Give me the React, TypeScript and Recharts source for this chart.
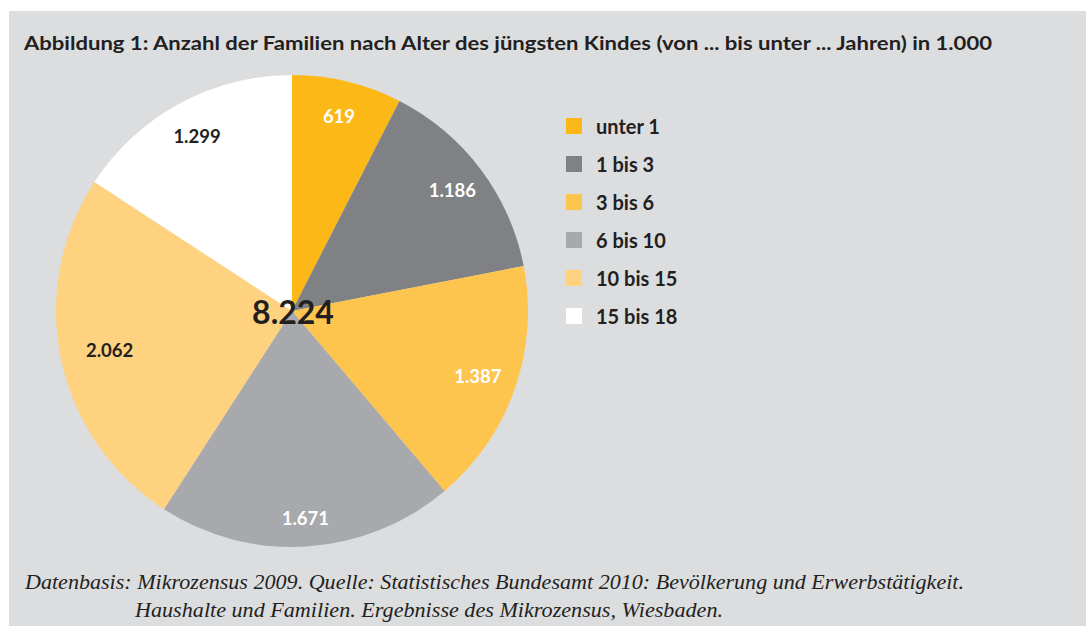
import { PieChart, Pie, Cell, Legend } from 'recharts'

const categories = ['unter 1', '1 bis 3', '3 bis 6', '6 bis 10', '10 bis 15', '15 bis 18']
const values = [619, 1186, 1387, 1671, 2062, 1299]
const valueLabels = ['619', '1.186', '1.387', '1.671', '2.062', '1.299']
const totalLabel = '8.224'
const colors = ['#fbb817', '#808184', '#fdc54e', '#a8a9ac', '#fed27f', '#ffffff']
const labelColors = ['#ffffff', '#ffffff', '#ffffff', '#ffffff', '#231f20', '#231f20']
// label distance from centre, as a share of the radius
const labelRadius = [0.85, 0.85, 0.835, 0.88, 0.79, 0.845]

const title = 'Abbildung 1: Anzahl der Familien nach Alter des jüngsten Kindes (von ... bis unter ... Jahren) in 1.000'
const source1 = 'Datenbasis: Mikrozensus 2009. Quelle: Statistisches Bundesamt 2010: Bevölkerung und Erwerbstätigkeit.'
const source2 = 'Haushalte und Familien. Ergebnisse des Mikrozensus, Wiesbaden.'

const chartData = categories.map((name, i) => ({ name, value: values[i], label: valueLabels[i] }))

const SANS = 'Lato, "Open Sans", sans-serif'
const SERIF = '"Liberation Serif", serif'
const RAD = Math.PI / 180
const CX = 292
const CY = 311

const renderLabel = (p: any) => {
  const r = p.outerRadius * labelRadius[p.index]
  const x = p.cx + r * Math.cos(-p.midAngle * RAD)
  const y = p.cy + r * Math.sin(-p.midAngle * RAD)
  return (
    <text x={x} y={y} textAnchor="middle" dominantBaseline="central"
      fill={labelColors[p.index]} fontFamily={SANS} fontWeight={700} fontSize={18.5}>
      {valueLabels[p.index]}
    </text>
  )
}

const renderLegend = () => (
  <div>
    {categories.map((c, i) => (
      <div key={c} style={{ display: 'flex', alignItems: 'center', height: 38 }}>
        <span style={{ width: 16, height: 16, background: colors[i], display: 'inline-block', marginRight: 14 }} />
        <span style={{ fontFamily: SANS, fontWeight: 700, fontSize: 20, color: '#231f20' }}>{c}</span>
      </div>
    ))}
  </div>
)

export default function App() {
  return (
    <div style={{ position: 'absolute', left: 0, top: 0, width: 1086, height: 626, background: '#fff', overflow: 'hidden' }}>
      <div style={{ position: 'absolute', left: 9, top: 11, width: 1077, height: 615, background: '#dcdddf' }} />
      <div style={{ position: 'absolute', left: 0, top: 0 }}>
        <PieChart width={1086} height={626} margin={{ top: 0, right: 0, bottom: 0, left: 0 }}>
          <Pie
            data={chartData}
            dataKey="value"
            nameKey="name"
            cx={CX}
            cy={CY}
            outerRadius={236}
            startAngle={90}
            endAngle={-270}
            stroke="none"
            label={renderLabel}
            labelLine={false}
            isAnimationActive={false}
          >
            {chartData.map((d, i) => (
              <Cell key={d.name} fill={colors[i]} />
            ))}
          </Pie>
          <Legend layout="vertical" content={renderLegend}
            wrapperStyle={{ position: 'absolute', left: 566, top: 107, width: 200 }} />
        </PieChart>
      </div>
      <svg width={1086} height={626} style={{ position: 'absolute', left: 0, top: 0, pointerEvents: 'none' }}>
        <text x={CX + 1} y={CY} textAnchor="middle" dominantBaseline="central" fontFamily={SANS}
          fontWeight={700} fontSize={32} fill="#231f20">{totalLabel}</text>
        <text x={24} y={50} fontFamily={SANS} fontWeight={700} fontSize={18.5} fill="#231f20"
          textLength={968} lengthAdjust="spacingAndGlyphs">{title}</text>
        <text x={25} y={589} fontFamily={SERIF} fontStyle="italic" fontSize={21} fill="#231f20"
          textLength={939} lengthAdjust="spacingAndGlyphs">{source1}</text>
        <text x={135} y={617} fontFamily={SERIF} fontStyle="italic" fontSize={21} fill="#231f20"
          textLength={588} lengthAdjust="spacingAndGlyphs">{source2}</text>
      </svg>
    </div>
  )
}
